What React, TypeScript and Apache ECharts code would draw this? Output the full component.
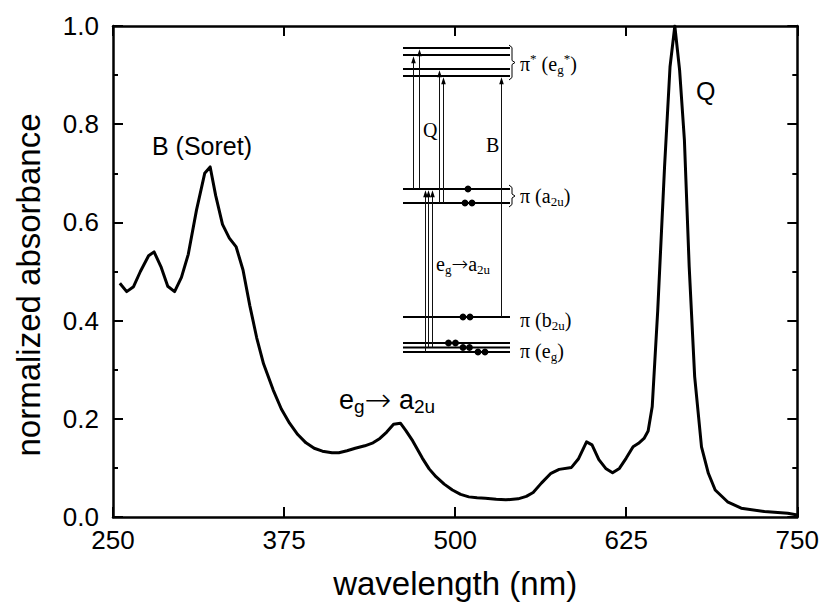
import React, { useEffect, useRef } from 'react';
import * as echarts from 'echarts';

// ---------- data ----------
const wavelength = [
  255, 260, 265, 270, 276, 280, 285, 290, 295, 300, 305, 311, 317, 321, 325, 330, 335, 340, 345, 350,
  355, 360, 367, 373, 379, 385, 391, 397, 403, 410, 415, 421, 427, 434, 440, 445, 450, 455, 460, 464,
  469, 476, 481, 486, 492, 498, 504, 510, 516, 522, 530, 537, 546, 552, 557, 563, 570, 576, 585, 590,
  596, 600, 605, 610, 615, 620, 625, 630, 634, 638, 641, 644, 648, 653, 657, 660.5, 664, 667.5, 671, 675,
  680, 685, 690, 699, 709, 726, 743, 750,
];
const absorbance = [
  0.476, 0.459, 0.469, 0.5, 0.532, 0.54, 0.51, 0.47, 0.459, 0.488, 0.535, 0.625, 0.7, 0.713, 0.655, 0.596, 0.568, 0.55, 0.503, 0.43,
  0.365, 0.312, 0.259, 0.22, 0.191, 0.168, 0.151, 0.14, 0.134, 0.131, 0.131, 0.135, 0.14, 0.145, 0.151, 0.16, 0.173, 0.189, 0.191, 0.176,
  0.155, 0.12, 0.098, 0.082, 0.067, 0.055, 0.046, 0.041, 0.039, 0.038, 0.036, 0.035, 0.037, 0.042, 0.05, 0.069, 0.089, 0.097, 0.101, 0.118,
  0.153, 0.147, 0.117, 0.099, 0.09, 0.099, 0.12, 0.143, 0.15, 0.16, 0.175, 0.225, 0.42, 0.713, 0.917, 1.0, 0.91, 0.768, 0.51, 0.286,
  0.143, 0.089, 0.055, 0.031, 0.018, 0.011, 0.0075, 0.004,
];
const xTickValues = [250, 375, 500, 625, 750];
const yTickLabels = ['0.0', '0.2', '0.4', '0.6', '0.8', '1.0'];
const xAxisName = 'wavelength (nm)';
const yAxisName = 'normalized absorbance';

const SANS = '"Liberation Sans", Arial, Helvetica, sans-serif';
const SERIF = '"Liberation Serif", "Times New Roman", Times, serif';
const ARROWFONT = '"DejaVu Sans", sans-serif';

function sansRich(size: number, sub: number, arrow: number) {
  return {
    m: { fontSize: size, lineHeight: size + 4, fontFamily: SANS, fill: '#000' },
    a: { fontSize: arrow, lineHeight: size + 4, fontFamily: ARROWFONT, fontWeight: 200, fill: '#000' },
    s: { fontSize: sub, lineHeight: Math.round(sub * 0.7), verticalAlign: 'bottom', fontFamily: SANS, fill: '#000' },
  };
}
function serifRich(size: number, sub: number, arrow: number) {
  return {
    m: { fontSize: size, lineHeight: size + 4, fontFamily: SERIF, fill: '#000' },
    a: { fontSize: arrow, lineHeight: size + 4, fontFamily: ARROWFONT, fontWeight: 200, fill: '#000' },
    s: { fontSize: sub, lineHeight: Math.round(sub * 0.75), verticalAlign: 'bottom', fontFamily: SERIF, fill: '#000' },
    p: { fontSize: sub, lineHeight: Math.round(sub * 0.75), verticalAlign: 'top', fontFamily: SERIF, fill: '#000' },
  };
}

function textEl(x: number, y: number, text: string, rich: any, extra: any = {}) {
  return {
    type: 'text',
    x,
    y,
    z: 100,
    style: {
      text,
      rich,
      align: 'left',
      verticalAlign: 'middle',
      textAlign: 'left',
      textVerticalAlign: 'middle',
      fill: '#000',
      ...extra,
    },
  };
}

function buildInset() {
  const els: any[] = [];
  const levels = [48, 55, 69, 76, 189, 203, 317, 343, 347.5, 352];
  levels.forEach((y) => {
    els.push({
      type: 'line', z: 100,
      shape: { x1: 403, y1: y, x2: 510, y2: y },
      style: { stroke: '#000', lineWidth: 2.2 },
    });
  });
  // arrows: [x, from y, to y]
  const arrows = [
    [413.5, 189, 55], [419.5, 189, 48], [439.5, 203, 69], [443.5, 203, 76], [501.5, 317, 76],
    [425.5, 352, 189], [428.5, 347.5, 189], [432.5, 347.5, 189],
  ];
  arrows.forEach(([x, y0, y1]) => {
    const tip = y1 + 1.2;
    els.push({
      type: 'line', z: 100,
      shape: { x1: x, y1: y0, x2: x, y2: tip + 6 },
      style: { stroke: '#111', lineWidth: 1 },
    });
    els.push({
      type: 'polygon', z: 100,
      shape: { points: [[x, tip], [x - 2.3, tip + 7], [x + 2.3, tip + 7]] },
      style: { fill: '#000' },
    });
  });
  const dots = [
    [468, 189], [465, 203], [472, 203], [463, 317], [470, 317],
    [448.5, 343], [455.5, 343], [463, 347.5], [469.5, 347.5], [478, 352], [485, 352],
  ];
  dots.forEach(([cx, cy]) => {
    els.push({ type: 'circle', z: 101, shape: { cx, cy, r: 3.4 }, style: { fill: '#000' } });
  });
  // curly brackets
  const brace = (top: number, bot: number) => {
    const mid = (top + bot) / 2;
    return {
      type: 'polyline', z: 100,
      shape: {
        points: [[509, top], [512, top + 2.5], [512, mid - 2], [515, mid], [512, mid + 2], [512, bot - 2.5], [509, bot]],
      },
      style: { stroke: '#000', lineWidth: 1, fill: 'none' },
    };
  };
  els.push(brace(45, 80));
  els.push(brace(185, 207));

  const sr = serifRich(20, 13, 20);
  els.push(textEl(520, 64, '{m|π}{p|*}{m| (e}{s|g}{p|*}{m|)}', sr));
  els.push(textEl(520, 196, '{m|π (a}{s|2u}{m|)}', sr));
  els.push(textEl(520, 320, '{m|π (b}{s|2u}{m|)}', sr));
  els.push(textEl(520, 351, '{m|π (e}{s|g}{m|)}', sr));
  els.push(textEl(436, 264, '{m|e}{s|g}{a|→}{m|a}{s|2u}', sr));
  els.push(textEl(423, 130, '{m|Q}', sr));
  els.push(textEl(486, 145, '{m|B}', sr));
  return els;
}

function buildAnnotations() {
  const els: any[] = [];
  const r = sansRich(25, 18, 25);
  els.push(textEl(152, 146, '{m|B (Soret)}', r));
  els.push(textEl(696, 91, '{m|Q}', r));
  els.push(textEl(339, 400, '{m|e}{s|g}{a|→}{m| a}{s|2u}', sansRich(27, 19, 32)));
  els.push({
    type: 'text', x: 28, y: 285, rotation: Math.PI / 2, z: 100,
    style: {
      text: yAxisName, fontSize: 33, fontFamily: SANS, fill: '#000',
      align: 'center', verticalAlign: 'middle', textAlign: 'center', textVerticalAlign: 'middle',
    },
  });
  return els;
}

const axisLine = { onZero: false, lineStyle: { color: '#000', width: 2.5 } };
const axisTick = { inside: true, length: 10, lineStyle: { color: '#000', width: 2 } };
const minorTick = { show: true, splitNumber: 2, length: 5, lineStyle: { color: '#000', width: 2 } };

export default function App() {
  const ref = useRef<HTMLDivElement>(null);
  useEffect(() => {
    const chart = echarts.init(ref.current!, null, { renderer: 'svg' });
    const data = wavelength.map((w, i) => [w, absorbance[i]]);
    chart.setOption({
      animation: false,
      backgroundColor: '#fff',
      grid: { left: 113, right: 22, top: 26, bottom: 93 },
      xAxis: [
        {
          type: 'value', min: 250, max: 750, interval: 125, position: 'bottom',
          axisLine, axisTick, splitLine: { show: false },
          axisLabel: {
            color: '#000', fontSize: 26, fontFamily: SANS, margin: 10,
            formatter: (v: number) => (xTickValues.includes(v) ? String(v) : ''),
          },
          name: xAxisName, nameLocation: 'middle', nameGap: 50,
          nameTextStyle: { color: '#000', fontSize: 33, fontFamily: SANS },
        },
        {
          type: 'value', min: 250, max: 750, interval: 125, position: 'top',
          axisLine, axisTick, splitLine: { show: false }, axisLabel: { show: false },
        },
      ],
      yAxis: [
        {
          type: 'value', min: 0, max: 1, interval: 0.2, position: 'left',
          axisLine, axisTick, minorTick, splitLine: { show: false }, minorSplitLine: { show: false },
          axisLabel: {
            color: '#000', fontSize: 26, fontFamily: SANS, margin: 14,
            formatter: (v: number) => yTickLabels[Math.round(v / 0.2)] ?? '',
          },
        },
        {
          type: 'value', min: 0, max: 1, interval: 0.2, position: 'right',
          axisLine, axisTick, minorTick, splitLine: { show: false }, minorSplitLine: { show: false },
          axisLabel: { show: false },
        },
      ],
      series: [
        {
          type: 'line', data, xAxisIndex: 0, yAxisIndex: 0,
          showSymbol: false, symbol: 'none', smooth: false,
          lineStyle: { color: '#000', width: 3, join: 'round' },
          z: 5,
        },
      ],
      graphic: [...buildInset(), ...buildAnnotations()],
    });
    return () => chart.dispose();
  }, []);
  return (
    <div
      ref={ref}
      style={{ position: 'fixed', left: 0, top: 0, width: 822, height: 610, background: '#fff' }}
    />
  );
}
